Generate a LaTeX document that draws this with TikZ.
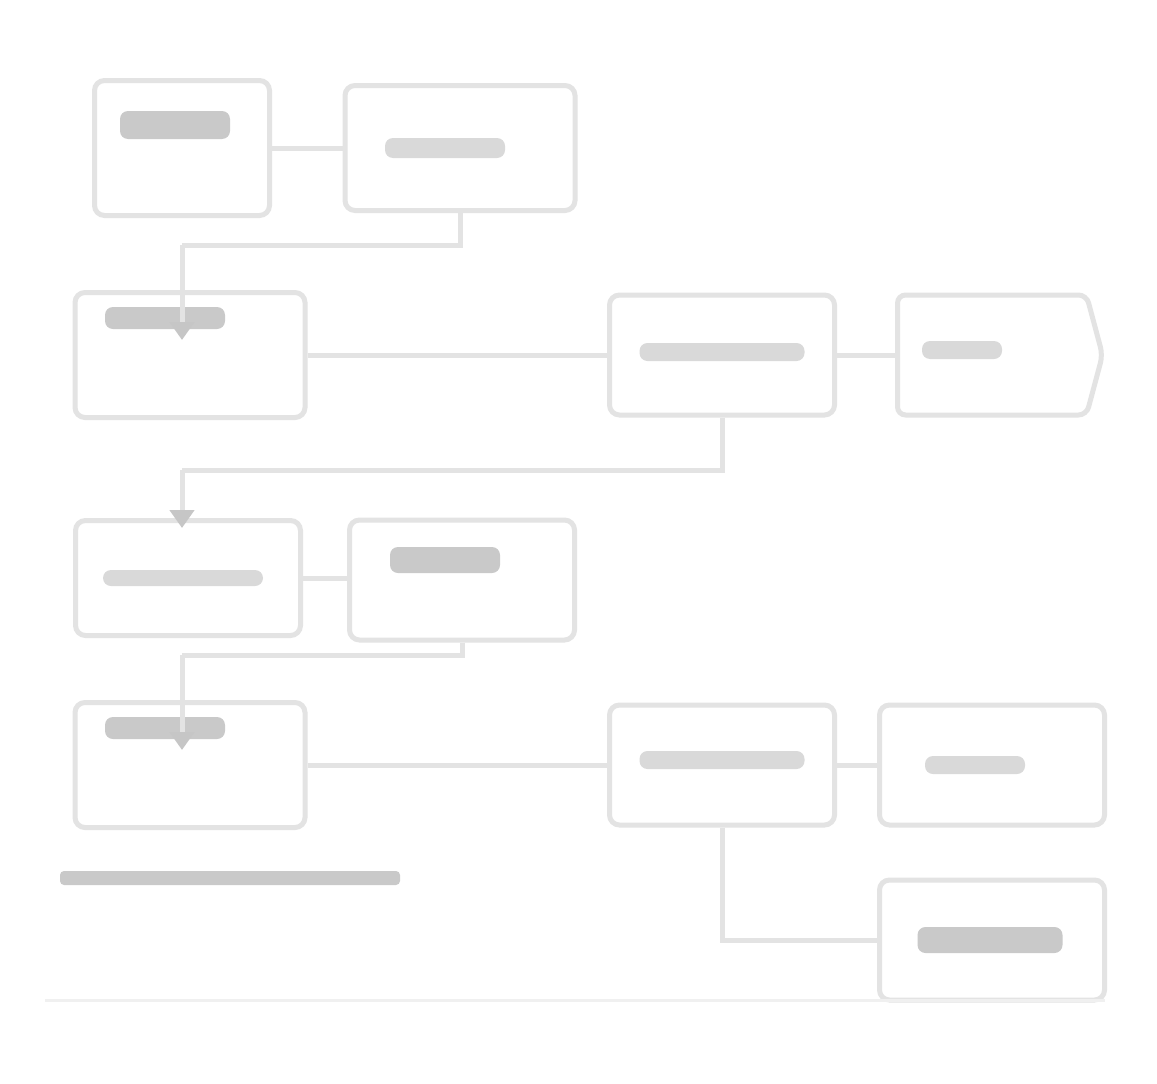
\documentclass[tikz,border=0pt]{standalone}
\usetikzlibrary{arrows.meta,shapes.geometric,shapes.misc,shapes.symbols}
\begin{document}
\begin{tikzpicture}[x=1pt,y=-1pt,
  boxst/.style={draw=gray!22,line width=5pt,rounded corners=10pt,fill=white,inner sep=0pt},
  hexst/.style={draw=gray!22,line width=5pt,fill=white,rounded corners=8pt,signal,signal to=east,signal pointer angle=150,inner sep=0pt},
  blobst/.style={fill=gray!30,draw=none,rounded corners=8pt,inner sep=0pt},
  darkblob/.style={fill=gray!42,draw=none,rounded corners=8pt,inner sep=0pt},
  wire/.style={draw=gray!22,line width=5pt},
  arr/.style={wire,-{Triangle[length=18pt,width=24pt,color=gray!45]}}]
\useasboundingbox (0,0) rectangle (1157,1084);
\fill[white] (0,0) rectangle (1157,1084);
% boxes (rows)
\node[boxst,minimum width=175pt,minimum height=135pt] (A) at (182,148) {};
\node[boxst,minimum width=230pt,minimum height=125pt] (B) at (460,148) {};
\node[boxst,minimum width=230pt,minimum height=125pt] (C) at (190,355) {};
\node[boxst,minimum width=225pt,minimum height=120pt] (D) at (722,355) {};
\node[hexst,minimum width=205pt,minimum height=120pt] (E) at (992,355) {};
\node[boxst,minimum width=225pt,minimum height=115pt] (F) at (188,578) {};
\node[boxst,minimum width=225pt,minimum height=120pt] (G) at (462,580) {};
\node[boxst,minimum width=230pt,minimum height=125pt] (H) at (190,765) {};
\node[boxst,minimum width=225pt,minimum height=120pt] (I) at (722,765) {};
\node[boxst,minimum width=225pt,minimum height=120pt] (J) at (992,765) {};
\node[boxst,minimum width=225pt,minimum height=120pt] (K) at (992,940) {};
% text blobs (illegible text)
\node[darkblob,minimum width=110pt,minimum height=28pt] (tA) at (175,125) {};
\node[blobst,minimum width=120pt,minimum height=20pt] (tB) at (445,148) {};
\node[darkblob,minimum width=120pt,minimum height=22pt] (tC) at (165,318) {};
\node[blobst,minimum width=165pt,minimum height=18pt] (tD) at (722,352) {};
\node[blobst,minimum width=80pt,minimum height=18pt] (tE) at (962,350) {};
\node[blobst,minimum width=160pt,minimum height=16pt] (tF) at (183,578) {};
\node[darkblob,minimum width=110pt,minimum height=26pt] (tG) at (445,560) {};
\node[darkblob,minimum width=120pt,minimum height=22pt] (tH) at (165,728) {};
\node[blobst,minimum width=165pt,minimum height=18pt] (tI) at (722,760) {};
\node[blobst,minimum width=100pt,minimum height=18pt] (tJ) at (975,765) {};
\node[darkblob,minimum width=145pt,minimum height=26pt] (tK) at (990,940) {};
\node[darkblob,minimum width=340pt,minimum height=14pt,rounded corners=4pt] (cap) at (230,878) {};
% connectors
\draw[wire] (A.east) -- (A.east -| B.west);
\coordinate (j1a) at (182,245);
\draw[wire] (B.south) |- (j1a);
\draw[arr] (j1a) -- (182,340);
\draw[wire] (C.east) -- (C.east -| D.west);
\draw[wire] (D.east) -- (D.east -| E.west);
\coordinate (j2a) at (182,470);
\draw[wire] (D.south) |- (j2a);
\draw[arr] (j2a) -- (182,528);
\draw[wire] (F.east) -- (F.east -| G.west);
\coordinate (j3a) at (182,655);
\draw[wire] (G.south) |- (j3a);
\draw[arr] (j3a) -- (182,750);
\draw[wire] (H.east) -- (H.east -| I.west);
\draw[wire] (I.east) -- (I.east -| J.west);
\draw[wire] (I.south) |- (K.west);
% bottom rule
\coordinate (r1) at (45,1000);
\coordinate (r2) at (1105,1000);
\draw[draw=gray!12,line width=3pt] (r1) -- (r2);
\end{tikzpicture}
\end{document}
